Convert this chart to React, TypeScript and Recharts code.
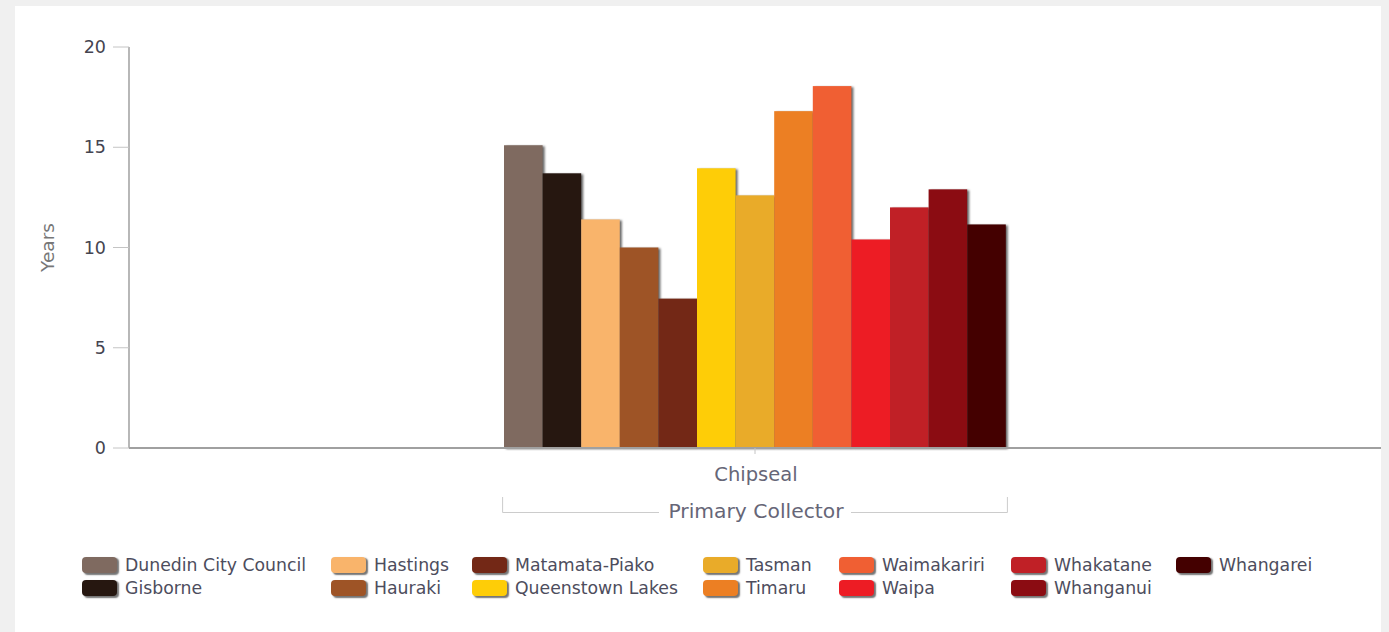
import React from 'react';
import { BarChart, Bar, XAxis, YAxis } from 'recharts';

const categories = ['Chipseal'];
const groupLabel = 'Primary Collector';
const yAxisTitle = 'Years';
const seriesNames = [
  'Dunedin City Council',
  'Gisborne',
  'Hastings',
  'Hauraki',
  'Matamata-Piako',
  'Queenstown Lakes',
  'Tasman',
  'Timaru',
  'Waimakariri',
  'Waipa',
  'Whakatane',
  'Whanganui',
  'Whangarei',
];
const seriesValues = [15.1, 13.7, 11.4, 10.0, 7.45, 13.95, 12.6, 16.8, 18.05, 10.4, 12.0, 12.9, 11.15];
const seriesColors = [
  '#7f6a60',
  '#261710',
  '#f9b46b',
  '#9e5426',
  '#732816',
  '#fecd07',
  '#e9ab29',
  '#ec7f23',
  '#f05f33',
  '#ed1c24',
  '#c02026',
  '#8b0c12',
  '#440000',
];
const yTicks = [0, 5, 10, 15, 20];

const data = categories.map((c) => {
  const row: Record<string, any> = { category: c };
  seriesNames.forEach((n, i) => {
    row[n] = seriesValues[i];
  });
  return row;
});

const CHART_W = 1389;
const CHART_H = 632;
const BAR_SIZE = 38.6;
const FONT = '"DejaVu Sans", Verdana, sans-serif';

const BarShape = (props: any) => {
  const { x, y, width, height, fill } = props;
  if (!height || height <= 0) return null;
  return (
    <rect
      x={x}
      y={y}
      width={width}
      height={height}
      fill={fill}
      style={{ filter: 'drop-shadow(2.5px 1.5px 1.2px rgba(0,0,0,0.6))' }}
    />
  );
};

const XTick = (props: any) => {
  const { x, y, payload } = props;
  const half = (BAR_SIZE * seriesNames.length) / 2 + 1.5;
  const axisY = y - 6;
  const lineY = axisY + 64.5;
  return (
    <g>
      <text x={x + 1} y={axisY + 33} textAnchor="middle" fill="#666677" fontSize={19.5} fontFamily={FONT}>
        {payload.value}
      </text>
      <path
        d={`M${x - half},${axisY + 49}V${lineY}H${x + half}V${axisY + 49}`}
        fill="none"
        stroke="#cccccc"
        strokeWidth={1}
      />
      <rect x={x - 96} y={lineY - 10} width={192} height={20} fill="#ffffff" />
      <text x={x + 1} y={axisY + 70} textAnchor="middle" fill="#666677" fontSize={20.3} fontFamily={FONT}>
        {groupLabel}
      </text>
    </g>
  );
};

const YTitle = (props: any) => {
  const vb = props.viewBox || {};
  const cx = 47;
  const cy = vb.y + vb.height / 2;
  return (
    <text
      x={cx}
      y={cy}
      transform={`rotate(-90 ${cx} ${cy})`}
      textAnchor="middle"
      dominantBaseline="central"
      fill="#777777"
      fontSize={18.5}
      fontFamily={FONT}
    >
      {yAxisTitle}
    </text>
  );
};

const colWidths = [249, 141, 231, 136, 172, 165, 160];

export default function App() {
  return (
    <div style={{ position: 'absolute', left: 0, top: 0, width: 1389, height: 632, background: '#f0f0f0', overflow: 'hidden' }}>
      <div style={{ position: 'absolute', left: 15, top: 6, width: 1366, height: 626, background: '#ffffff' }} />
      <div style={{ position: 'absolute', left: 0, top: 0 }}>
        <BarChart
          width={CHART_W}
          height={CHART_H}
          data={data}
          margin={{ top: 47, right: 8, bottom: 0, left: 0 }}
          barGap={0}
          barSize={BAR_SIZE}
        >
          <YAxis
            width={129}
            domain={[0, 20]}
            ticks={yTicks}
            interval={0}
            tickSize={16}
            tickMargin={7}
            axisLine={{ stroke: '#888888', strokeWidth: 1.2 }}
            tickLine={{ stroke: '#c4c4c4' }}
            tick={{ fill: '#444450', fontSize: 17.5, fontFamily: FONT }}
            label={{ content: YTitle } as any}
          />
          <XAxis
            dataKey="category"
            height={184}
            tickSize={6}
            tickMargin={0}
            axisLine={{ stroke: '#a0a0a0', strokeWidth: 2 }}
            tickLine={{ stroke: '#c4c4c4' }}
            tick={<XTick />}
          />
          {seriesNames.map((n, i) => (
            <Bar key={n} dataKey={n} fill={seriesColors[i]} isAnimationActive={false} shape={<BarShape />} />
          ))}
        </BarChart>
      </div>
      <div
        style={{
          position: 'absolute',
          left: 82,
          top: 553,
          display: 'grid',
          gridAutoFlow: 'column',
          gridTemplateRows: '23.5px 23.5px',
          gridTemplateColumns: colWidths.map((w) => `${w}px`).join(' '),
          fontFamily: FONT,
          fontSize: 17.3,
          color: '#4d4d5d',
        }}
      >
        {seriesNames.map((n, i) => (
          <div key={n} style={{ display: 'flex', alignItems: 'center', whiteSpace: 'nowrap' }}>
            <span
              style={{
                display: 'inline-block',
                flex: '0 0 auto',
                width: 35,
                height: 16,
                borderRadius: 4,
                background: seriesColors[i],
                boxShadow: '2px 1.5px 1.5px rgba(0,0,0,0.55)',
                marginRight: 8,
              }}
            />
            <span>{n}</span>
          </div>
        ))}
      </div>
    </div>
  );
}
